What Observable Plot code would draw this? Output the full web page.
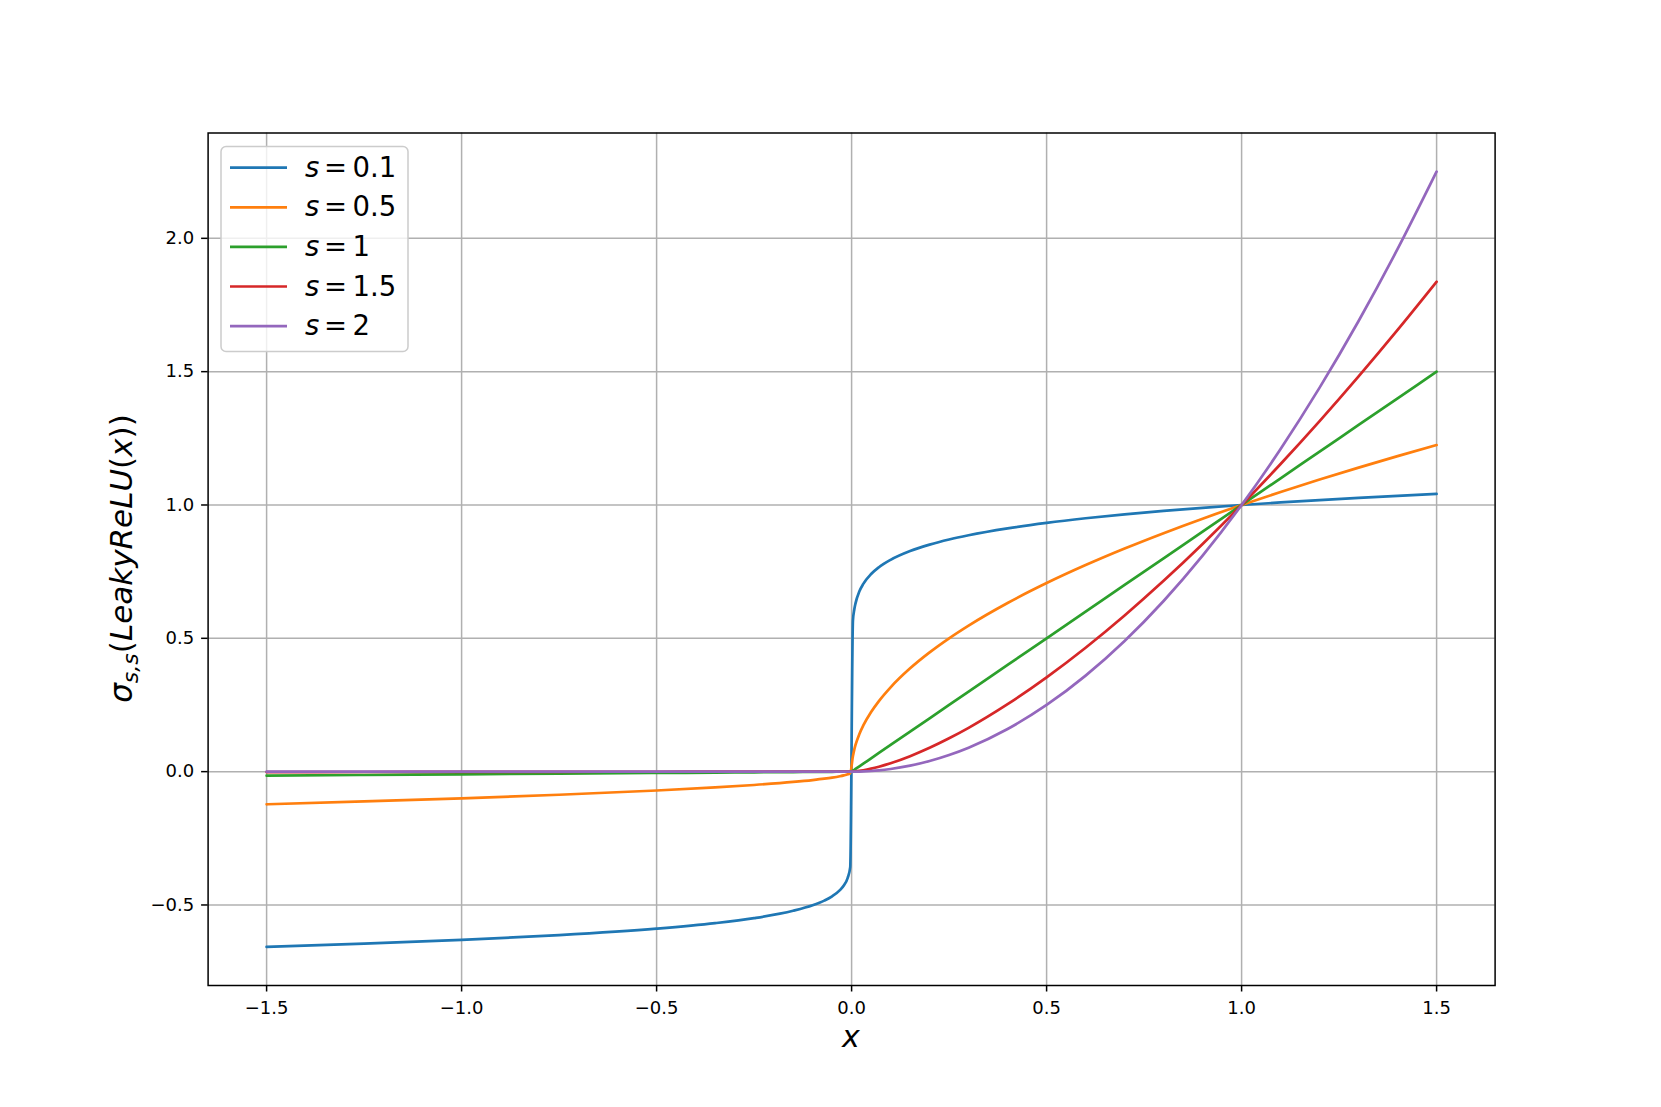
<!DOCTYPE html>
<html><head><meta charset="utf-8">
<script src="https://cdn.jsdelivr.net/npm/d3@7"></script>
<script src="https://cdn.jsdelivr.net/npm/@observablehq/plot@0.6"></script>
<style>
html,body{margin:0;padding:0;background:#fff;overflow:hidden;}
#chart svg{display:block;}
</style>
</head><body>
<div id="chart"></div>
<script>
// x sample positions
const xs = [-1.5,-1.25,-1.0,-0.75,-0.5,-0.35,-0.25,-0.15,-0.1,-0.07,-0.05,-0.03,-0.02,-0.01,-0.0035,
            0.0034,0.007,0.01,0.02,0.03,0.05,0.07,0.1,0.15,0.2,0.25,0.3,0.4,0.5,0.6,0.7,0.8,0.9,1.0,1.1,1.2,1.3,1.4,1.5];

const s01 = [-0.6571,-0.6452,-0.6310,-0.6131,-0.5887,-0.5681,-0.5493,-0.5219,-0.5012,-0.4836,-0.4676,-0.4444,-0.4267,-0.3981,-0.3584,
             0.5664,0.6089,0.6310,0.6762,0.7043,0.7411,0.7665,0.7943,0.8272,0.8513,0.8706,0.8866,0.9124,0.9330,0.9502,0.9650,0.9779,0.9895,1.0,1.0096,1.0184,1.0266,1.0342,1.0414];
const s05 = [-0.1225,-0.1118,-0.1,-0.0866,-0.0707,-0.0592,-0.05,-0.0387,-0.0316,-0.0265,-0.0224,-0.0173,-0.0141,-0.01,-0.0059,
             0.0583,0.0837,0.1,0.1414,0.1732,0.2236,0.2646,0.3162,0.3873,0.4472,0.5,0.5477,0.6325,0.7071,0.7746,0.8367,0.8944,0.9487,1.0,1.0488,1.0954,1.1402,1.1832,1.2247];
const s1 = [-0.015,-0.0125,-0.01,-0.0075,-0.005,-0.0035,-0.0025,-0.0015,-0.001,-0.0007,-0.0005,-0.0003,-0.0002,-0.0001,-0.00004,
            0.0034,0.007,0.01,0.02,0.03,0.05,0.07,0.1,0.15,0.2,0.25,0.3,0.4,0.5,0.6,0.7,0.8,0.9,1.0,1.1,1.2,1.3,1.4,1.5];
const s15 = [-0.0018,-0.0014,-0.001,-0.0006,-0.0004,-0.0002,-0.0001,-0.0001,0,0,0,0,0,0,0,
             0.0002,0.0006,0.001,0.0028,0.0052,0.0112,0.0185,0.0316,0.0581,0.0894,0.125,0.1643,0.2530,0.3536,0.4648,0.5857,0.7155,0.8538,1.0,1.1537,1.3145,1.4822,1.6565,1.8371];
const s2 = [-0.0002,-0.0002,-0.0001,-0.0001,0,0,0,0,0,0,0,0,0,0,0,
            0.00001,0.00005,0.0001,0.0004,0.0009,0.0025,0.0049,0.01,0.0225,0.04,0.0625,0.09,0.16,0.25,0.36,0.49,0.64,0.81,1.0,1.21,1.44,1.69,1.96,2.25];

const seriesNames = ["0.1","0.5","1","1.5","2"];
const seriesValues = [s01, s05, s1, s15, s2];
const colors = ["#1f77b4","#ff7f0e","#2ca02c","#d62728","#9467bd"];
const xTicks = [-1.5,-1.0,-0.5,0.0,0.5,1.0,1.5];
const yTicks = [-0.5,0.0,0.5,1.0,1.5,2.0];

const data = seriesNames.flatMap((name, k) => xs.map((x, i) => ({x, y: seriesValues[k][i], s: name})));
const fmt = d3.format(".1f");

const chart = Plot.plot({
  width: 1661, height: 1107,
  marginLeft: 207.6, marginRight: 166.4, marginTop: 132.5, marginBottom: 122,
  style: {fontFamily: "DejaVu Sans", fontSize: "18px", background: "#fff", color: "#000"},
  x: {domain: [-1.65, 1.65]},
  y: {domain: [-0.802, 2.395]},
  color: {domain: seriesNames, range: colors},
  marks: [
    Plot.gridX(xTicks, {stroke: "#b0b0b0", strokeOpacity: 1, strokeWidth: 1.5}),
    Plot.gridY(yTicks, {stroke: "#b0b0b0", strokeOpacity: 1, strokeWidth: 1.5}),
    Plot.axisX(xTicks, {tickFormat: fmt, tickSize: 6.5, tickPadding: 9.5, strokeWidth: 1.5, label: null, fill: "#000"}),
    Plot.axisY(yTicks, {tickFormat: fmt, tickSize: 6.5, tickPadding: 7.5, strokeWidth: 1.5, label: null, fill: "#000"}),
    Plot.line(data, {x: "x", y: "y", z: "s", stroke: "s", strokeWidth: 2.7, curve: "monotone-x"}),
    Plot.frame({stroke: "#000", strokeWidth: 1.5})
  ]
});
document.getElementById("chart").appendChild(chart);

const svg = d3.select(chart);
// y label
const yl = svg.append("text")
  .attr("transform", "translate(131.5,558.5) rotate(-90)")
  .attr("text-anchor", "middle")
  .attr("fill", "#000")
  .style("font-family", "DejaVu Sans").style("font-size", "31px");
yl.append("tspan").attr("font-style", "italic").text("σ");
yl.append("tspan").attr("font-style", "italic").attr("font-size", "22px").attr("dy", 6).text("s,s");
yl.append("tspan").attr("dy", -6).text("(");
yl.append("tspan").attr("font-style", "italic").text("LeakyReLU");
yl.append("tspan").text("(");
yl.append("tspan").attr("font-style", "italic").text("x");
yl.append("tspan").text("))");

// x label
svg.append("text")
  .attr("x", 851).attr("y", 1047)
  .attr("text-anchor", "middle")
  .attr("fill", "#000")
  .attr("font-style", "italic")
  .style("font-family", "DejaVu Sans").style("font-size", "30px")
  .text("x");

// legend
const lg = svg.append("g").attr("text-anchor", "start");
lg.append("rect").attr("x", 221).attr("y", 146.5).attr("width", 187).attr("height", 205)
  .attr("rx", 5).attr("fill", "#fff").attr("fill-opacity", 0.8)
  .attr("stroke", "#cccccc").attr("stroke-width", 1.5);
seriesNames.forEach((name, i) => {
  const yy = 167.7 + i * 39.6;
  lg.append("line").attr("x1", 230).attr("x2", 287).attr("y1", yy).attr("y2", yy)
    .attr("stroke", colors[i]).attr("stroke-width", 2.7);
  const base = yy + 9;
  const put = (x, str, italic) => lg.append("text")
    .attr("x", x).attr("y", base).attr("fill", "#000")
    .attr("text-anchor", "start")
    .attr("font-style", italic ? "italic" : "normal")
    .style("font-family", "DejaVu Sans").style("font-size", "27.5px")
    .text(str);
  put(305, "s", true);
  put(324, "=", false);
  put(352.5, name, false);
});
</script>
</body></html>
